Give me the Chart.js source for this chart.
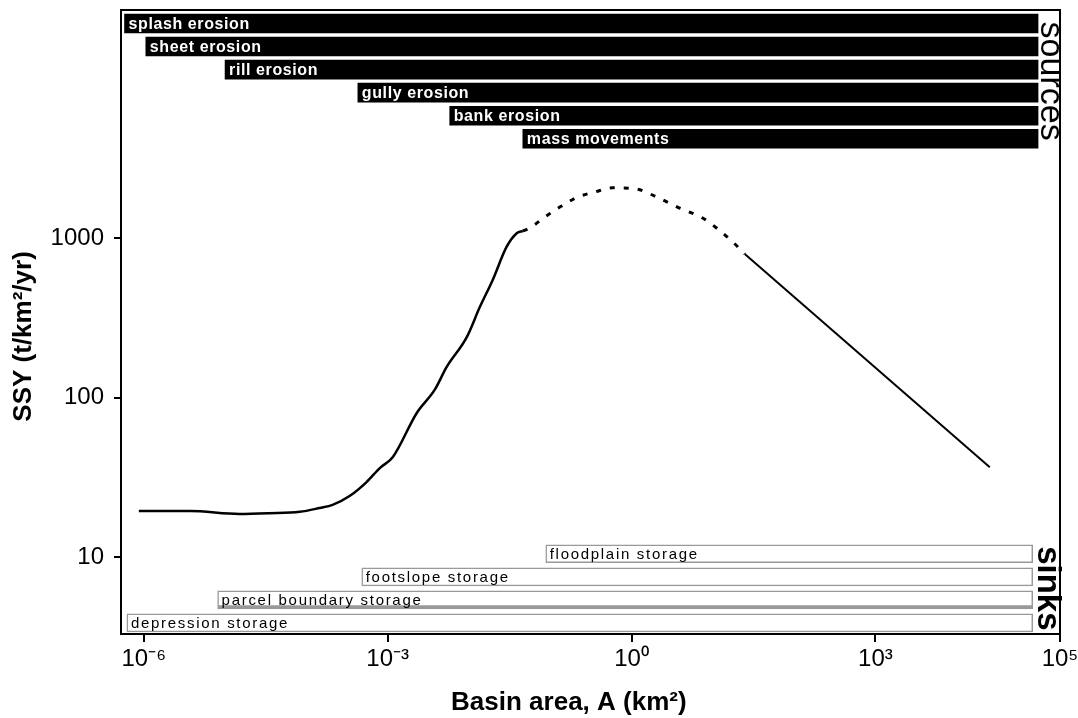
<!DOCTYPE html>
<html>
<head>
<meta charset="utf-8">
<script src="https://cdn.jsdelivr.net/npm/chart.js@4.4.1/dist/chart.umd.min.js"></script>
<style>
  html, body { margin: 0; padding: 0; background: #fff; }
</style>
</head>
<body>
<canvas id="myChart" width="1078" height="718"></canvas>
<script>
// sediment sources (black bars): basin area (km2) where each process starts / ends
let sourceNames = ["splash erosion", "sheet erosion", "rill erosion", "gully erosion", "bank erosion", "mass movements"];
let sourceFrom = [5.8e-7, 1.06e-6, 1e-5, 4.3e-4, 5.8e-3, 4.6e-2];
let sourceTo = [1e5, 1e5, 1e5, 1e5, 1e5, 1e5];
let sourceRows = [0, 1, 2, 3, 4, 5];

// sediment sinks (open bars)
let sinkNames = ["floodplain storage", "footslope storage", "parcel boundary storage", "depression storage"];
let sinkFrom = [8.8e-2, 4.8e-4, 8.1e-6, 6.2e-7];
let sinkTo = [8.6e4, 8.6e4, 8.6e4, 8.6e4];
let sinkRows = [23, 24, 25, 26];

// SSY curve, rising part (solid)
let riseArea = [8.7e-7, 3.7e-6, 1.5e-5, 3.5e-5, 8.3e-5, 1.46e-4, 2.1e-4, 3.4e-4, 5.5e-4, 8.0e-4, 1.16e-3, 2.28e-3, 3.8e-3, 5.3e-3, 9.4e-3, 1.36e-2, 1.96e-2, 2.9e-2, 3.9e-2, 4.6e-2];
let riseSsy = [19.4, 19.4, 18.6, 18.8, 19.2, 20.3, 21.2, 24.1, 29.5, 36.1, 42.4, 80, 112, 155, 239, 369, 546, 879, 1075, 1107];

// peak (dashed, uncertain)
let peakArea = [4.6e-2, 5.6e-2, 8.6e-2, 0.131, 0.218, 0.352, 0.587, 1.16, 1.93, 3.9, 7.5, 11.5, 17.1, 24.7];
let peakSsy = [1107, 1156, 1355, 1563, 1807, 1942, 2065, 2028, 1832, 1542, 1334, 1139, 958, 794];

// falling part (solid)
let fallArea = [24.7, 25500];
let fallSsy = [794, 36.6];

let xTickValues = [1e-6, 1e-3, 1, 1e3];
let xTickLabels = ["10⁻⁶", "10⁻³", "10⁰", "10³", "10⁵"];
let yTickValues = [10, 100, 1000];

const FONT = "'Liberation Sans', Arial, Helvetica, sans-serif";

function pts(xs, ys) {
    return xs.map((x, i) => ({ x: x, y: ys[i] }));
}

function bars(rows, from, to) {
    return rows.map((r, i) => ({ y: r, x: [from[i], to[i]] }));
}

const barText = {
    id: "barText",
    afterDatasetsDraw(chart) {
        let ctx = chart.ctx;
        chart.data.datasets.forEach((ds, di) => {
            if (!ds.barNames) return;
            let meta = chart.getDatasetMeta(di);
            meta.data.forEach((bar, i) => {
                let left = Math.min(bar.x, bar.base);
                ctx.save();
                ctx.font = ds.nameFont;
                ctx.letterSpacing = ds.nameSpacing;
                ctx.fillStyle = ds.nameColor;
                ctx.textBaseline = "middle";
                ctx.textAlign = "left";
                ctx.fillText(ds.barNames[i], left + 4, bar.y + 1);
                ctx.restore();
            });
        });
    }
};

const frame = {
    id: "frame",
    afterDraw(chart) {
        let ctx = chart.ctx;
        let a = chart.chartArea;
        let rows = chart.scales.rows;
        let x = chart.scales.x;
        ctx.save();
        ctx.strokeStyle = "#000";
        ctx.lineWidth = 2;
        ctx.strokeRect(a.left, a.top, a.right - a.left, a.bottom - a.top);

        ctx.fillStyle = "#000";
        ctx.textAlign = "center";
        ctx.textBaseline = "middle";

        // "sources" word, rotated
        let cx = (x.getPixelForValue(sourceTo[0]) + a.right) / 2;
        let cy = rows.getPixelForValue((sourceRows[0] + sourceRows[sourceRows.length - 1]) / 2);
        ctx.save();
        ctx.translate(cx + 1, cy);
        ctx.rotate(Math.PI / 2);
        ctx.font = "34px " + FONT;
        ctx.fillText("sources", 0, 0);
        ctx.restore();

        // "sinks" word
        cx = (x.getPixelForValue(sinkTo[0]) + a.right) / 2;
        cy = rows.getPixelForValue((sinkRows[0] + sinkRows[sinkRows.length - 1]) / 2);
        ctx.save();
        ctx.translate(cx + 1, cy);
        ctx.rotate(Math.PI / 2);
        ctx.font = "bold 33px " + FONT;
        ctx.fillText("sinks", 0, 0);
        ctx.restore();

        ctx.restore();
    }
};

let config = {
    type: "line",
    data: {
        datasets: [
            {
                type: "bar",
                indexAxis: "y",
                xAxisID: "x",
                yAxisID: "rows",
                data: bars(sourceRows, sourceFrom, sourceTo),
                backgroundColor: "#000",
                borderWidth: 0,
                barThickness: 19,
                grouped: false,
                barNames: sourceNames,
                nameFont: "bold 16px " + FONT,
                nameSpacing: "0.6px",
                nameColor: "#fff"
            },
            {
                type: "bar",
                indexAxis: "y",
                xAxisID: "x",
                yAxisID: "rows",
                data: bars(sinkRows, sinkFrom, sinkTo),
                backgroundColor: "#fff",
                borderColor: "#999",
                borderSkipped: false,
                borderWidth: c => c.dataIndex === 2 ? { top: 1.5, left: 1.5, right: 1.5, bottom: 4 } : 1.5,
                barThickness: 18,
                grouped: false,
                barNames: sinkNames,
                nameFont: "15px " + FONT,
                nameSpacing: "1.7px",
                nameColor: "#000"
            },
            {
                label: "rise",
                data: pts(riseArea, riseSsy),
                xAxisID: "x",
                yAxisID: "y",
                borderColor: "#000",
                borderWidth: 2.5,
                pointRadius: 0,
                cubicInterpolationMode: "monotone",
                fill: false
            },
            {
                label: "peak",
                data: pts(peakArea, peakSsy),
                xAxisID: "x",
                yAxisID: "y",
                borderColor: "#000",
                borderWidth: 3,
                borderDash: [5, 9],
                pointRadius: 0,
                cubicInterpolationMode: "monotone",
                fill: false
            },
            {
                label: "fall",
                data: pts(fallArea, fallSsy),
                xAxisID: "x",
                yAxisID: "y",
                borderColor: "#000",
                borderWidth: 2,
                pointRadius: 0,
                fill: false
            }
        ]
    },
    options: {
        responsive: false,
        animation: false,
        layout: { padding: { top: 10, right: 18, left: 0, bottom: 0 } },
        plugins: {
            legend: { display: false },
            tooltip: { enabled: false }
        },
        scales: {
            x: {
                type: "logarithmic",
                position: "bottom",
                min: Math.pow(10, -6.28),
                max: Math.pow(10, 5.27),
                afterBuildTicks: s => { s.ticks = xTickValues.concat([s.max]).map(v => ({ value: v })); },
                afterFit: s => { s.height = 84; s.paddingLeft = 0; s.paddingRight = 0; },
                ticks: {
                    callback: (v, i) => xTickLabels[i],
                    autoSkip: false,
                    maxRotation: 0,
                    padding: 3,
                    color: "#000",
                    font: { family: FONT, size: 24 }
                },
                grid: { display: true, drawOnChartArea: false, drawTicks: true, tickLength: 8, color: "#000", lineWidth: 2 },
                border: { display: true, color: "#000", width: 2 },
                title: {
                    display: true,
                    text: "Basin area, A (km²)      ",
                    color: "#000",
                    font: { family: FONT, size: 26, weight: "bold" },
                    padding: { top: 0, bottom: 0 }
                }
            },
            y: {
                type: "logarithmic",
                position: "left",
                min: 3.29,
                max: 26900,
                afterBuildTicks: s => { s.ticks = yTickValues.map(v => ({ value: v })); },
                afterFit: s => { s.width = 121; s.paddingTop = 0; s.paddingBottom = 0; },
                ticks: {
                    callback: v => String(v),
                    padding: 10,
                    color: "#000",
                    font: { family: FONT, size: 24 }
                },
                grid: { display: true, drawOnChartArea: false, drawTicks: true, tickLength: 7, color: "#000", lineWidth: 2 },
                border: { display: true, color: "#000", width: 2 },
                title: {
                    display: true,
                    text: "SSY (t/km²/yr)    ",
                    color: "#000",
                    font: { family: FONT, size: 26, weight: "bold" },
                    padding: { top: 8, bottom: 0 }
                }
            },
            rows: {
                type: "linear",
                position: "right",
                reverse: true,
                offset: false,
                bounds: "data",
                min: -0.585,
                max: 26.48,
                afterBuildTicks: s => { s.min = -0.585; s.max = 26.48; },
                afterFit: s => { s.width = 0; s.paddingTop = 0; s.paddingBottom = 0; },
                ticks: { display: false },
                grid: { display: false, drawTicks: false, offset: false },
                border: { display: false }
            }
        }
    },
    plugins: [barText, frame]
};

let ctx = document.getElementById("myChart").getContext("2d");
let myChart = new Chart(ctx, config);
</script>
</body>
</html>
